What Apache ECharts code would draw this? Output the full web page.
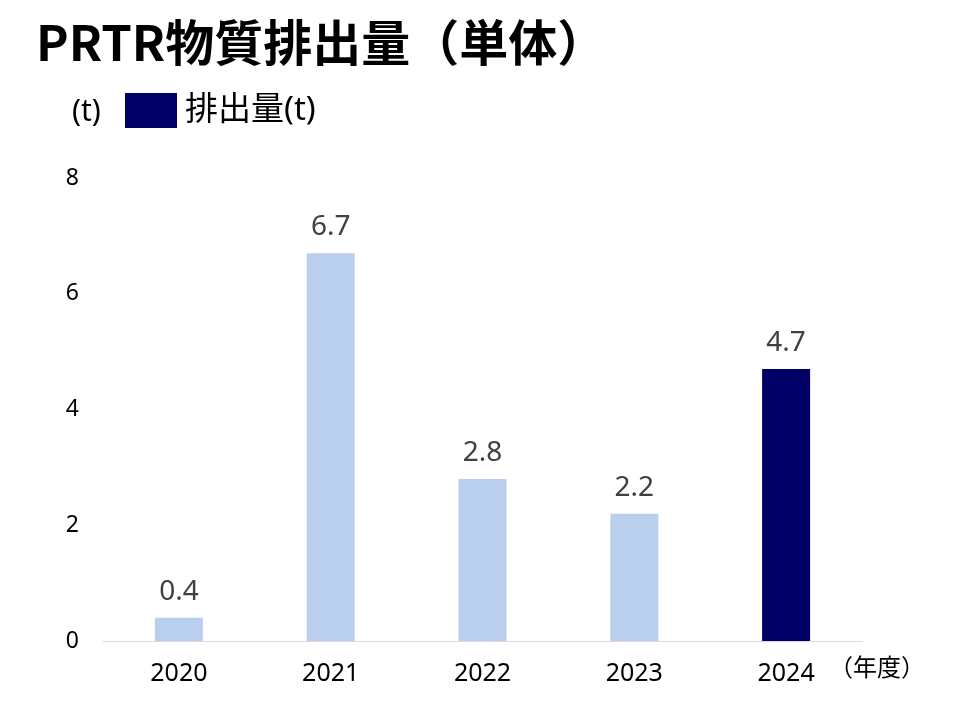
<!DOCTYPE html>
<html>
<head>
<meta charset="utf-8">
<script src="https://cdn.jsdelivr.net/npm/echarts@6/dist/echarts.min.js"></script>
<style>html,body{margin:0;padding:0;background:#fff}#c{width:960px;height:720px}</style>
</head>
<body>
<div id="c"></div>
<script>
var categories = ['2020', '2021', '2022', '2023', '2024'];
var emissions = [0.4, 6.7, 2.8, 2.2, 4.7];
var yTicks = [0, 2, 4, 6, 8];
var seriesName = '排出量(t)';
var titleText = 'PRTR物質排出量（単体）';

var LIGHT = '#BACFEE';
var NAVY = '#000066';
var FONT = '"Noto Sans", "Noto Sans CJK JP", sans-serif';

var chart = echarts.init(document.getElementById('c'));
chart.setOption({
  backgroundColor: '#fff',
  animation: false,
  title: {
    text: titleText,
    left: 31,
    top: 13,
    textStyle: { fontSize: 49, fontWeight: 'bold', color: '#000', fontFamily: '"Noto Sans CJK JP", sans-serif' }
  },
  legend: {
    left: 120,
    top: 88,
    itemWidth: 52,
    itemHeight: 35,
    itemGap: 10,
    icon: 'rect',
    textStyle: { fontSize: 33, color: '#000', fontFamily: FONT, padding: [4, 0, 0, 3] },
    data: [seriesName]
  },
  graphic: [
    { type: 'text', left: 72, top: 97, style: { text: '(t)', fontSize: 30, fill: '#000', fontFamily: FONT } },
    { type: 'text', left: 829, top: 657, style: { text: '（年度）', fontSize: 24, fill: '#000', fontFamily: FONT } }
  ],
  grid: { left: 103, right: 98, top: 178, bottom: 79 },
  xAxis: {
    type: 'category',
    data: categories,
    axisLine: { lineStyle: { color: '#D9D9D9', width: 1 } },
    axisTick: { show: false },
    axisLabel: { fontSize: 25, color: '#000', margin: 20, fontFamily: FONT }
  },
  yAxis: {
    type: 'value',
    min: yTicks[0],
    max: yTicks[yTicks.length - 1],
    interval: 2,
    splitLine: { show: false },
    axisLine: { show: false },
    axisTick: { show: false },
    axisLabel: { fontSize: 23, color: '#000', margin: 24, fontFamily: FONT }
  },
  series: [{
    name: seriesName,
    type: 'bar',
    barWidth: 48,
    itemStyle: { color: NAVY },
    data: emissions.map(function (v, i) {
      return { value: v, itemStyle: { color: i === emissions.length - 1 ? NAVY : LIGHT } };
    }),
    label: {
      show: true,
      position: 'top',
      distance: 12,
      fontSize: 28,
      color: '#404040',
      fontFamily: FONT,
      formatter: function (p) { return p.value.toFixed(1); }
    }
  }]
});
</script>
</body>
</html>
